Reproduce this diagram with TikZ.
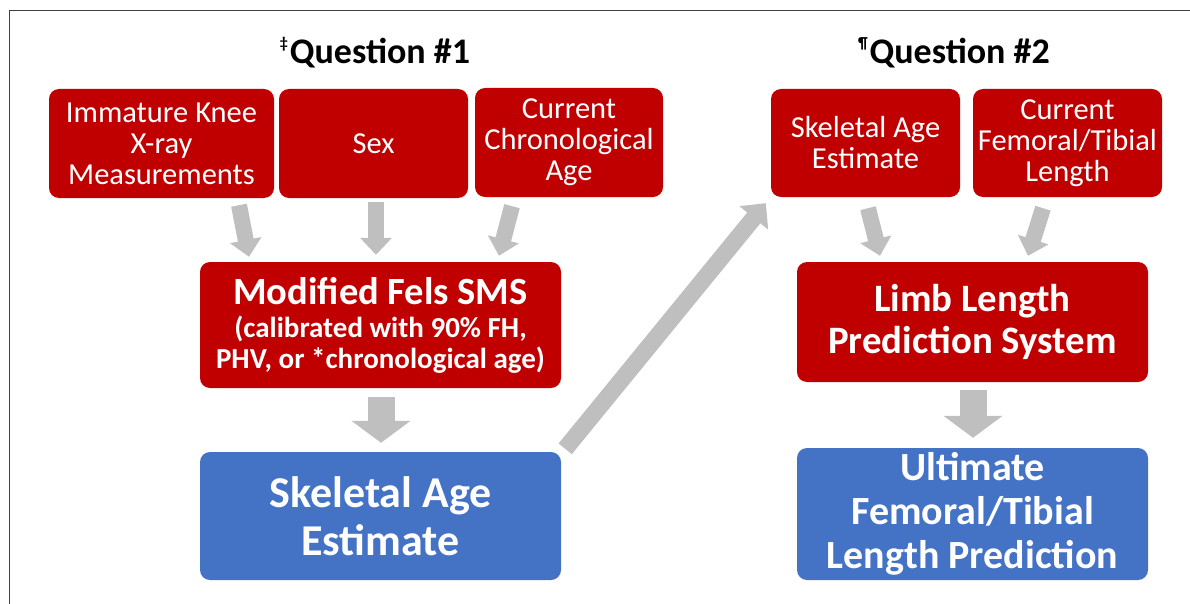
\documentclass[tikz,border=0pt]{standalone}
\usepackage{fontspec}
\setmainfont{Carlito}
\usetikzlibrary{arrows.meta,calc}
\definecolor{boxred}{HTML}{C00000}
\definecolor{boxblue}{HTML}{4472C4}
\definecolor{arrgray}{HTML}{BFBFBF}
\definecolor{framegray}{HTML}{404040}
\begin{document}
\begin{tikzpicture}[x=1pt,y=-1pt,
  box/.style={rounded corners=10pt, text=white, align=center, inner sep=0pt},
  redbox/.style={box, fill=boxred},
  bluebox/.style={box, fill=boxblue},
  inbox/.style={redbox, font=\fontsize{30.5}{31}\selectfont},
  title/.style={font=\bfseries\fontsize{36}{36}\selectfont, anchor=base, inner sep=0pt},
  smallarrow/.style={draw=arrgray, line width=16pt, -{Triangle[width=31pt,length=17pt]}},
  bigarrow/.style={draw=arrgray, line width=27pt, -{Triangle[width=58pt,length=22pt]}},
  diagarrow/.style={draw=arrgray, line width=17pt, -{Triangle[width=36pt,length=19pt]}},
  frameline/.style={draw=framegray, line width=1.5pt}
]
\useasboundingbox (0,0) rectangle (1190,604);
\coordinate (fr1) at (1190,10.5);
\coordinate (fr2) at (9.5,10.5);
\coordinate (fr3) at (9.5,604);
\draw[frameline] (fr1) -- (fr2) -- (fr3);

\node[title] (q1) at (375,64) {\raisebox{0.42em}{\fontsize{16}{16}\selectfont ‡}\kern2pt Question \#1};
\node[title] (q2) at (954,64) {\raisebox{0.42em}{\fontsize{16}{16}\selectfont ¶}\kern2pt Question \#2};

\node[inbox, minimum width=225pt, minimum height=109pt] (A) at (161.5,143.5) {Immature Knee\\X-ray\\Measurements};
\node[inbox, minimum width=189pt, minimum height=109pt] (B) at (373.5,143.5) {Sex};
\node[inbox, minimum width=188pt, minimum height=109pt] (C) at (569,142.5) {Current\\Chronological\\Age};
\node[inbox, minimum width=189pt, minimum height=108pt] (D) at (865.5,143) {Skeletal Age\\Estimate};
\node[inbox, minimum width=189pt, minimum height=108pt] (E) at (1067.5,143) {Current\\Femoral/Tibial\\Length};

\node[redbox, minimum width=361pt, minimum height=126pt, font=\bfseries\fontsize{29}{30.5}\selectfont] (F) at (380.5,325)
  {{\fontsize{38.5}{38.5}\selectfont Modified Fels SMS}\\[3pt](calibrated with 90\% FH,\\PHV, or *chronological age)};
\node[bluebox, minimum width=361pt, minimum height=128pt, font=\bfseries\fontsize{44}{48}\selectfont] (G) at (380.5,516)
  {Skeletal Age\\Estimate};
\node[redbox, minimum width=351pt, minimum height=120pt, font=\bfseries\fontsize{38.8}{42}\selectfont] (H) at (972.5,322)
  {Limb Length\\Prediction System};
\node[bluebox, minimum width=351pt, minimum height=132pt, font=\bfseries\fontsize{40}{44}\selectfont] (I) at (972.5,514)
  {Ultimate\\Femoral/Tibial\\Length Prediction};

\draw[smallarrow] ($(A.south)+(77.5,7)$) -- ($(F.north)+(-131.5,-5)$);
\draw[smallarrow] ($(B.south)+(2.5,4)$) -- ($(F.north)+(-4.5,-7)$);
\draw[smallarrow] ($(C.south)+(-57,9)$) -- ($(F.north)+(118.5,-6)$);
\draw[bigarrow] ($(F.south)+(0.5,9)$) -- ($(G.north)+(0.5,-9)$);
\draw[diagarrow] ($(G.north east)+(4,-3)$) -- ($(D.south west)+(-5,6)$);
\draw[smallarrow] ($(D.south)+(2.5,11)$) -- ($(H.north)+(-92.5,-6)$);
\draw[smallarrow] ($(E.south)+(-24.5,11)$) -- ($(H.north)+(55.5,-6)$);
\draw[bigarrow] ($(H.south)+(0.5,8)$) -- ($(I.north)+(0.5,-10)$);
\end{tikzpicture}
\end{document}
